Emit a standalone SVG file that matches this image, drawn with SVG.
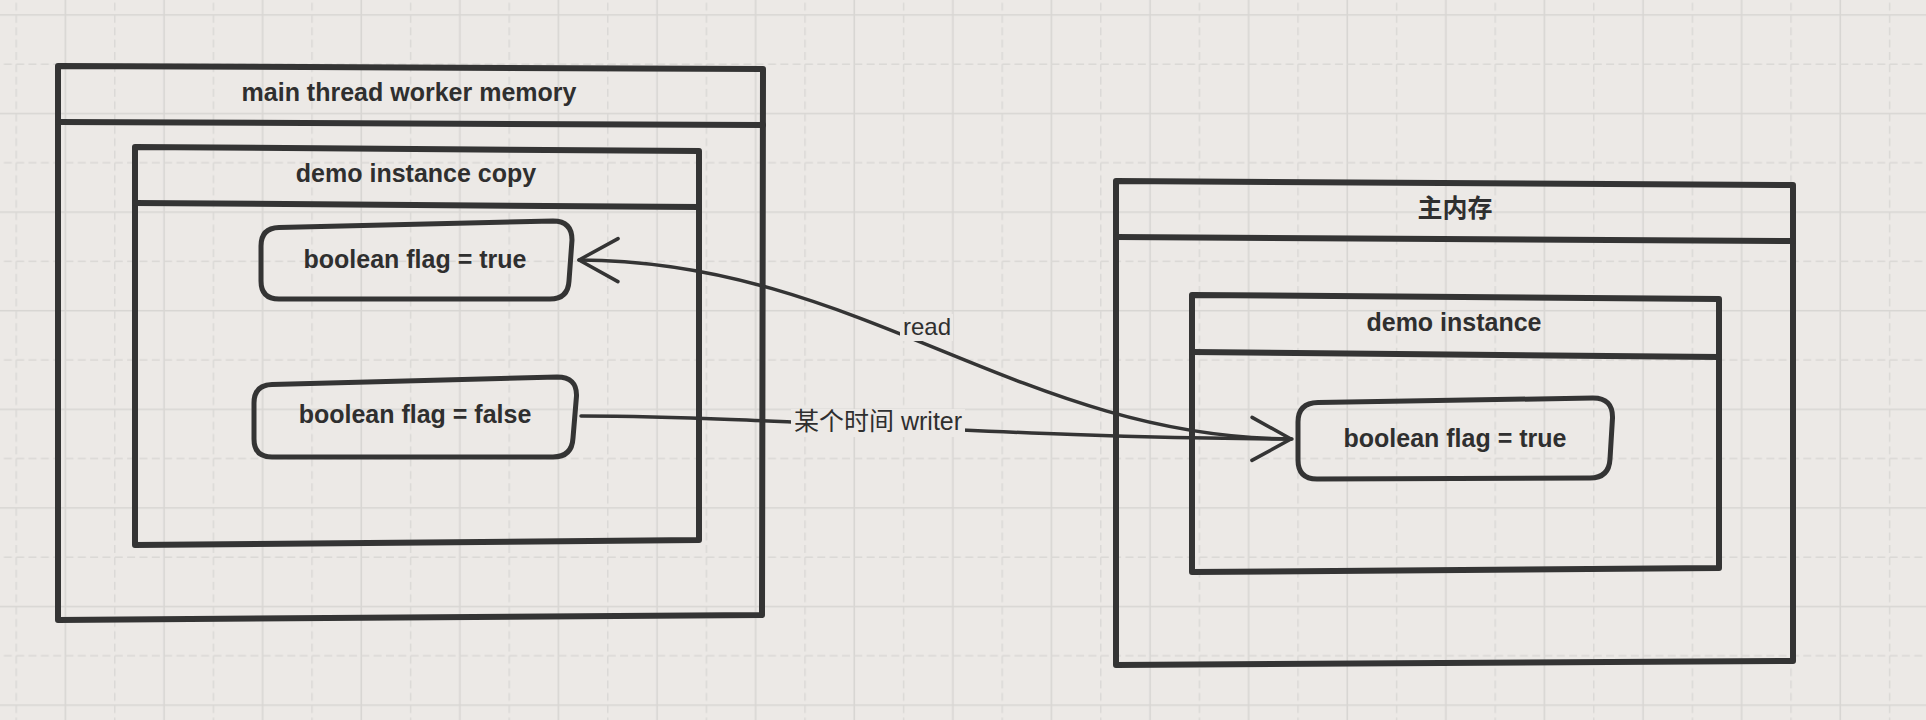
<svg xmlns="http://www.w3.org/2000/svg" width="1926" height="720" viewBox="0 0 1926 720">
  <style>
    .box { fill: none; stroke: #343434; stroke-width: 6; stroke-linejoin: round; stroke-linecap: round; }
    .node { fill: none; stroke: #343434; stroke-width: 5; stroke-linejoin: round; }
    .title { font-family: "Liberation Sans", "Noto Sans CJK SC", Arial, sans-serif; font-size: 25px; font-weight: bold; fill: #2f2f2f; text-anchor: middle; }
    .label { font-family: "Liberation Sans", "Noto Sans CJK SC", Arial, sans-serif; font-size: 24px; fill: #2f2f2f; }
    .edge { fill: none; stroke: #343434; stroke-width: 3.5; stroke-linecap: round; }
    .lblbg { fill: #ece9e6; }
  </style>
  <defs>
    <pattern id="grid" patternUnits="userSpaceOnUse" x="-8.45" y="-9.75" width="98.6" height="98.6">
      <line x1="73.95" y1="0" x2="73.95" y2="98.6" stroke="#d8d6d3" stroke-width="1.6"/>
      <line x1="0" y1="24.65" x2="98.6" y2="24.65" stroke="#d8d6d3" stroke-width="1.6"/>
      <line x1="24.65" y1="0" x2="24.65" y2="98.6" stroke="#dad8d5" stroke-width="1.4" stroke-dasharray="8 4.325"/>
      <line x1="0" y1="73.95" x2="98.6" y2="73.95" stroke="#dad8d5" stroke-width="1.4" stroke-dasharray="8 4.325"/>
    </pattern>
    <marker id="open" markerUnits="userSpaceOnUse" markerWidth="50" markerHeight="50" viewBox="-45 -25 50 50" refX="0" refY="0" orient="auto">
      <path d="M -39 -21.5 L 0 0 L -39 21.5" fill="none" stroke="#343434" stroke-width="3.5" stroke-linecap="round" stroke-linejoin="round"/>
    </marker>
  </defs>

  <rect width="1926" height="720" fill="#ece9e6"/>
  <rect width="1926" height="720" fill="url(#grid)"/>

  <g id="main-thread-worker-memory">
    <path class="box" d="M 58 66 L 763 69 L 762 615 L 58 620 Z"/>
    <path class="box" d="M 58 122 L 763 125"/>
    <text class="title" x="409" y="100.5">main thread worker memory</text>
  </g>

  <g id="demo-instance-copy">
    <path class="box" d="M 135 147 L 699 151 L 699 540 L 135 545 Z"/>
    <path class="box" d="M 135 203 L 699 207"/>
    <text class="title" x="416" y="182">demo instance copy</text>
  </g>

  <g id="flag-true-copy">
    <path class="node" d="M 279 227.5 L 553 221 Q 572 221 572 240 L 569 281 Q 568 299 550 299 L 279 299 Q 261 299 261 281 L 261 246 Q 261 228 279 227.5 Z"/>
    <text class="title" x="415" y="268.3">boolean flag = true</text>
  </g>

  <g id="flag-false-copy">
    <path class="node" d="M 272 384.5 L 557 377 Q 577 377 576.5 396 L 573 438 Q 572 457 553 457 L 272 457 Q 254 457 254 439 L 254 403 Q 254 385 272 384.5 Z"/>
    <text class="title" x="415" y="423.3">boolean flag = false</text>
  </g>

  <g id="main-memory">
    <path class="box" d="M 1116 181 L 1793 185 L 1793 661 L 1116 665 Z"/>
    <path class="box" d="M 1116 237 L 1793 241"/>
    <text class="title" x="1455" y="217">主内存</text>
  </g>

  <g id="demo-instance">
    <path class="box" d="M 1192 295 L 1719 299 L 1719 568 L 1192 572 Z"/>
    <path class="box" d="M 1192 352 L 1719 357"/>
    <text class="title" x="1454" y="331">demo instance</text>
  </g>

  <g id="flag-true-main">
    <path class="node" d="M 1318 402.5 L 1593 398 Q 1613 398 1612.5 418 L 1610 459 Q 1609 478 1590 478 L 1317 479 Q 1298 479 1298 460 L 1298 422 Q 1298 403 1318 402.5 Z"/>
    <text class="title" x="1455" y="446.7">boolean flag = true</text>
  </g>

  <g id="connectors">
    <path class="edge" d="M 1292 439 C 1020 438, 860 261, 579 260" marker-end="url(#open)"/>
    <path class="edge" d="M 581 416 C 800 417, 1000 438, 1291 439" marker-end="url(#open)"/>
    <rect class="lblbg" x="900" y="314" width="53" height="27"/>
    <text class="label" x="903" y="335">read</text>
    <rect class="lblbg" x="791" y="409" width="174" height="28"/>
    <text class="label" x="794" y="430" style="font-size:25px">某个时间 writer</text>
  </g>
</svg>
